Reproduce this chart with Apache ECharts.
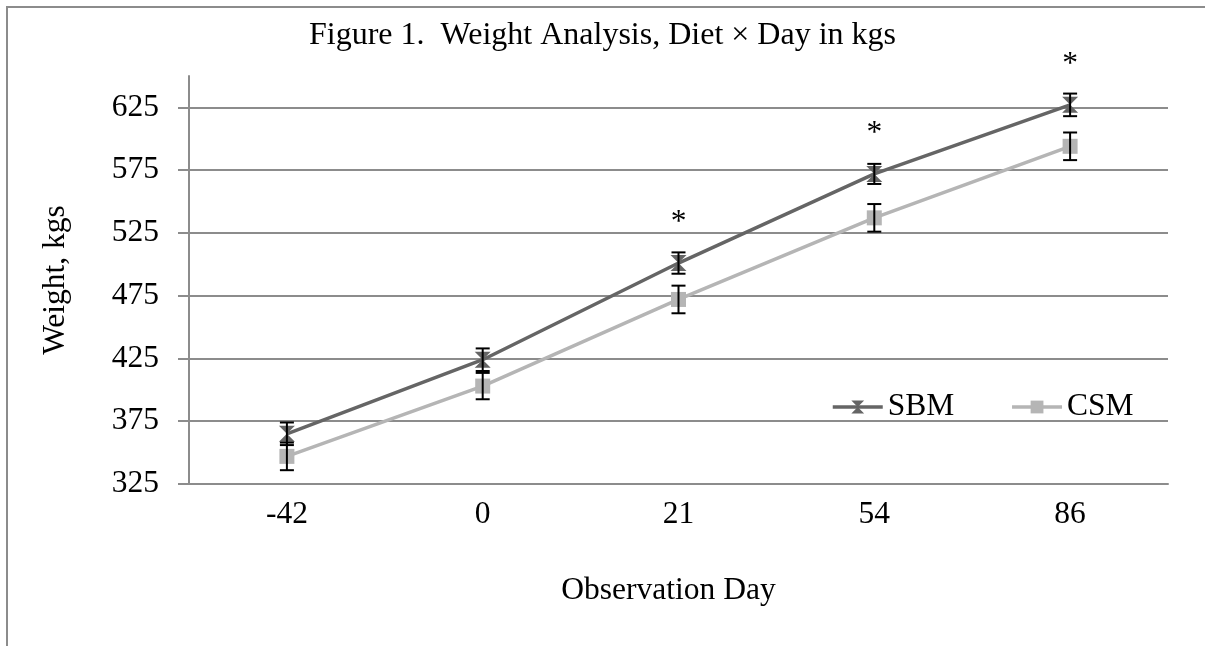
<!DOCTYPE html>
<html><head><meta charset="utf-8">
<script src="https://cdn.jsdelivr.net/npm/echarts@6/dist/echarts.min.js"></script>
<style>
html,body{margin:0;padding:0;background:#fff;overflow:hidden}
#c{width:1205px;height:646px;position:absolute;left:0;top:0}
#f{position:absolute;left:6px;top:6px;width:1400px;height:800px;border-left:2px solid #8c8c8c;border-top:2px solid #8c8c8c;pointer-events:none}
</style>
</head><body><div id="c"></div><div id="f"></div>
<script>
const days = ['-42', '0', '21', '54', '86'];
const sbm = [365, 424, 501, 572, 627];
const csm = [347, 403, 472, 537, 594];
const sbmErr = [9, 9, 8.5, 8, 9];
const csmErr = [11, 10.5, 11, 11, 11];
const sig = ['', '', '*', '*', '*'];
const yTicks = [325, 375, 425, 475, 525, 575, 625];
const yMin = 325, yMax = 650, yStep = 50;

const FONT = "'Liberation Serif','Times New Roman',serif";
const FS = 31.5;
const SBM_C = '#656565', CSM_C = '#b5b5b5', GRID_C = '#8c8c8c';
const hourglass = 'path://M0,0 L10,0 L5,5 L10,10 L0,10 L5,5 Z';

function errData(vals, errs) { return vals.map((v, i) => [i, v - errs[i], v + errs[i]]); }
function errRender(params, api) {
  const x = api.value(0);
  const lo = api.coord([x, api.value(1)]);
  const hi = api.coord([x, api.value(2)]);
  const w = 7;
  const st = { stroke: '#000', lineWidth: 2 };
  return { type: 'group', children: [
    { type: 'line', shape: { x1: lo[0], y1: lo[1], x2: hi[0], y2: hi[1] }, style: st },
    { type: 'line', shape: { x1: lo[0] - w, y1: lo[1], x2: lo[0] + w, y2: lo[1] }, style: st },
    { type: 'line', shape: { x1: hi[0] - w, y1: hi[1], x2: hi[0] + w, y2: hi[1] }, style: st }
  ]};
}

const chart = echarts.init(document.getElementById('c'), null, { renderer: 'canvas' });
chart.setOption({
  animation: false,
  backgroundColor: 'transparent',
  textStyle: { fontFamily: FONT },
  title: {
    text: 'Figure 1.  Weight Analysis, Diet \u00d7 Day in kgs',
    left: 'center', top: 15,
    textStyle: { fontFamily: FONT, fontSize: 32, fontWeight: 'normal', color: '#000' }
  },
  grid: { left: 189, right: 37, top: 76, bottom: 162, containLabel: false },
  legend: {
    left: 826, top: 386, itemWidth: 50, itemHeight: 16, itemGap: 56,
    lineStyle: { width: 3.5 },
    textStyle: { fontFamily: FONT, fontSize: FS, color: '#000' },
    data: ['SBM', 'CSM']
  },
  xAxis: {
    type: 'category', data: days, boundaryGap: true,
    name: 'Observation Day', nameLocation: 'middle', nameGap: 91,
    nameTextStyle: { fontFamily: FONT, fontSize: FS, color: '#000', padding: [0, 20, 0, 0] },
    axisLine: { lineStyle: { color: GRID_C, width: 2 } },
    axisTick: { show: false },
    axisLabel: { fontFamily: FONT, fontSize: FS, color: '#000', margin: 15 }
  },
  yAxis: {
    type: 'value', min: yMin, max: yMax, interval: yStep,
    name: 'Weight, kgs', nameLocation: 'middle', nameGap: 117,
    nameTextStyle: { fontFamily: FONT, fontSize: FS, color: '#000' },
    axisLine: { show: true, lineStyle: { color: GRID_C, width: 2 } },
    axisTick: { show: true, length: 11, customValues: yTicks, lineStyle: { color: GRID_C, width: 2 } },
    axisLabel: { fontFamily: FONT, fontSize: FS, color: '#000', margin: 30, customValues: yTicks },
    splitLine: { show: true, showMinLine: false, showMaxLine: true, lineStyle: { color: GRID_C, width: 2 } }
  },
  series: [
    {
      name: 'SBM', type: 'line', data: sbm, z: 4,
      lineStyle: { color: SBM_C, width: 3.5 }, itemStyle: { color: SBM_C },
      symbol: hourglass, symbolSize: 16,
      label: { show: true, position: 'top', distance: 16, formatter: p => sig[p.dataIndex],
        fontFamily: FONT, fontSize: FS, color: '#000' }
    },
    {
      name: 'CSM', type: 'line', data: csm, z: 3,
      lineStyle: { color: CSM_C, width: 3.5 }, itemStyle: { color: CSM_C },
      symbol: 'rect', symbolSize: 15
    },
    { type: 'custom', data: errData(sbm, sbmErr), renderItem: errRender, z: 6, silent: true },
    { type: 'custom', data: errData(csm, csmErr), renderItem: errRender, z: 6, silent: true }
  ]
});
</script>
</body></html>
